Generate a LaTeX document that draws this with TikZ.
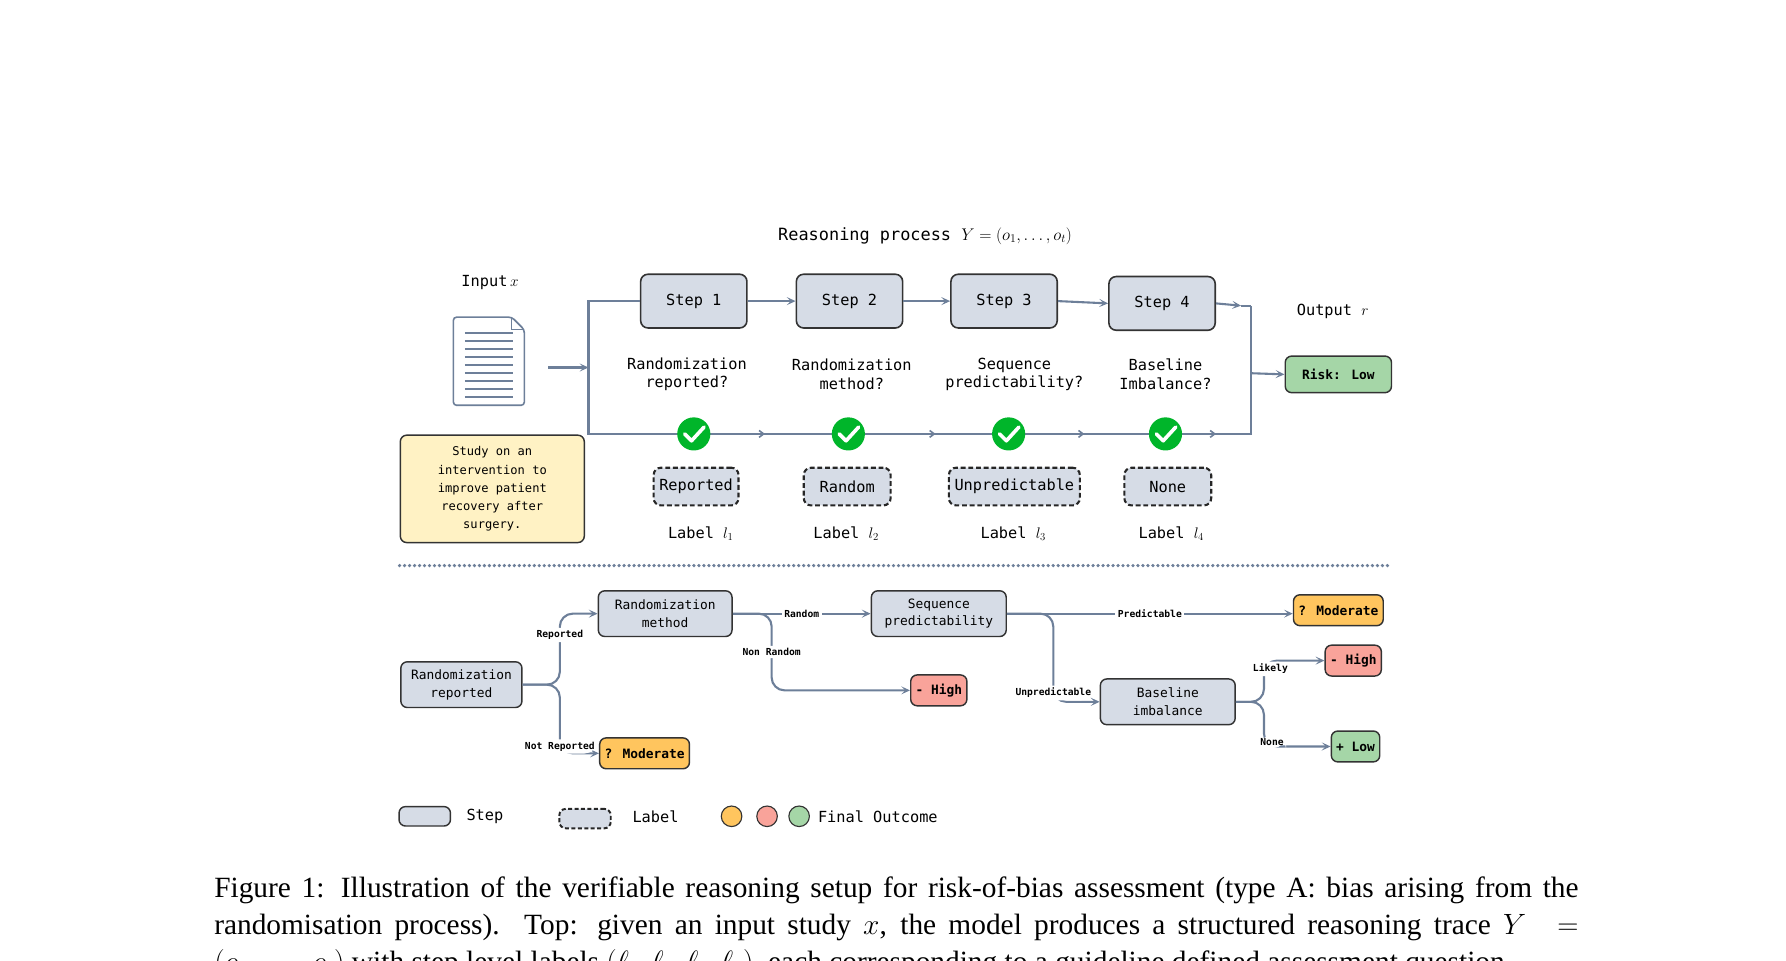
\RequirePackage{fix-cm}
\documentclass[tikz,border=0pt]{standalone}
\usepackage{fontspec}
\usepackage{amsmath}
\setmainfont{Liberation Serif}
\newfontfamily\mono{DejaVu Sans Mono}
\usetikzlibrary{arrows.meta}
\definecolor{stepfill}{HTML}{D6DCE6}
\definecolor{edgecol}{HTML}{6D7F99}
\definecolor{notefill}{HTML}{FFF2C4}
\definecolor{modfill}{HTML}{FFC55E}
\definecolor{highfill}{HTML}{F9A39A}
\definecolor{lowfill}{HTML}{A5D6A7}
\definecolor{okgreen}{HTML}{00B52A}
\begin{document}
\begin{tikzpicture}[x=0.05cm,y=-0.05cm,
  every node/.style={font=\mono\fontsize{19}{23}\selectfont},
  stepbox/.style={draw=black!80,fill=stepfill,rounded corners=9pt,line width=2pt,minimum width=93*1.42pt,minimum height=47*1.42pt},
  labbox/.style={draw=black!85,dash pattern=on 6pt off 3.5pt,fill=stepfill,rounded corners=9pt,line width=2.6pt,minimum height=33*1.42pt,inner xsep=7pt},
  treebox/.style={draw=black!80,fill=stepfill,rounded corners=8pt,line width=1.8pt,align=center,minimum width=117*1.42pt,minimum height=40*1.42pt,font=\mono\fontsize{16}{22}\selectfont},
  outcome/.style={draw=black!80,rounded corners=8pt,line width=1.8pt,font=\mono\bfseries\fontsize{16}{20}\selectfont,minimum height=27*1.42pt,inner xsep=6pt},
  elab/.style={fill=white,text=black,inner sep=3pt,font=\mono\bfseries\fontsize{12}{14}\selectfont},
  flow/.style={edgecol,line width=2.6pt,-{Stealth[length=11pt,width=10pt,inset=5pt]}},
  branch/.style={edgecol,line width=2.6pt,rounded corners=16pt,-{Stealth[length=11pt,width=10pt,inset=5pt]}},
  check/.style={circle,fill=okgreen,minimum size=29*1.42pt,inner sep=0pt}]
\useasboundingbox (0,0) rectangle (1560,839);
% top part
\node[font=\mono\fontsize{21}{25}\selectfont] (title) at (808,206) {Reasoning process $Y=(o_1,\dots,o_t)$};
\node (inputlab) at (428,247) {Input$\,x$};
\node (outputlab) at (1164,272) {Output $r$};
% document icon
\draw[edgecol,line width=2pt,fill=white,rounded corners=4pt] (396,277) -- (447,277) -- (458,288) -- (458,354) -- (396,354) -- cycle;
\draw[edgecol,line width=1.5pt] (447,277) -- (447,288) -- (458,288);
\foreach \y in {291,298,...,347} \draw[edgecol,line width=2.4pt] (406,\y) -- (448,\y);
\coordinate (docout) at (479,321);
\coordinate (split) at (514,321);
\draw[flow] (docout) -- (split);
% steps
\node[stepbox] (s1) at (606,263) {Step 1};
\node[stepbox] (s2) at (742,263) {Step 2};
\node[stepbox] (s3) at (877,263) {Step 3};
\node[stepbox] (s4) at (1015,265) {Step 4};
\node[align=center] (q1) at (600,327) {Randomization\\reported?};
\node[align=center] (q2) at (744,327) {Randomization\\method?};
\node[align=center] (q3) at (886,327) {Sequence\\predictability?};
\node[align=center] (q4) at (1018,327) {Baseline\\Imbalance?};
\node[outcome,fill=lowfill,minimum width=93*1.42pt,minimum height=32*1.42pt] (risk) at (1169,327) {Risk: Low};
\coordinate (jtop) at (1093,267);
\coordinate (jmid) at (1093,326);
\coordinate (jbot) at (1093,379);
\draw[edgecol,line width=2.6pt] (s1.west) -| (514,379) -- (jbot) -- (jtop);
\draw[flow] (s1) -- (s2);
\draw[flow] (s2) -- (s3);
\draw[flow] (s3.east) -- (s4.west);
\draw[flow] (s4.east) -- (1084,267);
\draw[edgecol,line width=2.6pt] (1084,267) -- (jtop);
\draw[flow] (jmid) -- (risk.west);
\foreach \x in {666,815,945,1060}
  \draw[edgecol,line width=2pt] (\x-3,376) -- (\x+1,379) -- (\x-3,382);
\foreach \x/\n in {606/c1,741/c2,881/c3,1018/c4}{
  \node[check] (\n) at (\x,379) {};
  \draw[white,line width=4.5pt,line cap=round,line join=round] (\x-8,379) -- (\x-2,385) -- (\x+9,373);
}
\node[labbox] (l1) at (608,425) {Reported};
\node[labbox,minimum width=76*1.42pt] (l2) at (740,425) {Random};
\node[labbox] (l3) at (886,425) {Unpredictable};
\node[labbox,minimum width=76*1.42pt] (l4) at (1020,425) {None};
\node (ll1) at (612,466) {Label $l_1$};
\node (ll2) at (739,466) {Label $l_2$};
\node (ll3) at (885,466) {Label $l_3$};
\node (ll4) at (1023,466) {Label $l_4$};
\node[draw=black!80,fill=notefill,rounded corners=8pt,line width=1.8pt,align=center,minimum width=161*1.42pt,minimum height=94*1.42pt,font=\mono\fontsize{15}{22.5}\selectfont] (study) at (430,427) {Study on an\\intervention to\\improve patient\\recovery after\\surgery.};
% separator
\draw[edgecol,line width=4.5pt,line cap=round,dash pattern=on 0pt off 6.2pt] (349,494) -- (1216,494);
% bottom decision tree
\node[treebox,minimum width=106*1.42pt] (rr) at (403,598) {Randomization\\reported};
\node[treebox] (rm) at (581,536) {Randomization\\method};
\node[treebox,minimum width=118*1.42pt] (sp) at (820,536) {Sequence\\predictability};
\node[treebox,minimum width=118*1.42pt] (bi) at (1020,613) {Baseline\\imbalance};
\node[outcome,fill=modfill] (mod1) at (563,658) {? Moderate};
\node[outcome,fill=highfill] (hi1) at (820,603) {- High};
\node[outcome,fill=modfill] (mod2) at (1169,533) {? Moderate};
\node[outcome,fill=highfill] (hi2) at (1182,577) {- High};
\node[outcome,fill=lowfill] (low) at (1184,652) {+ Low};
\draw[branch] (rr.east) -- (489,598) |- (rm.west) node[elab,pos=0.35] {Reported};
\draw[branch] (rr.east) -- (489,598) |- (mod1.west) node[elab,pos=0.45] {Not Reported};
\draw[flow] (rm.east) -- (sp.west) node[elab,pos=0.5] {Random};
\draw[branch] (rm.east) -- (674,536) |- (hi1.west) node[elab,pos=0.25] {Non Random};
\draw[flow] (sp.east) -- (mod2.west |- sp.east) node[elab,pos=0.5] {Predictable};
\draw[branch] (sp.east) -- (920,536) |- (bi.west) node[elab,pos=0.45] {Unpredictable};
\draw[branch] (bi.east) -- (1104,613) |- (hi2.west) node[elab,pos=0.4,xshift=8] {Likely};
\draw[branch] (bi.east) -- (1104,613) |- (low.west) node[elab,pos=0.45,xshift=10] {None};
% legend
\node[draw=black!80,fill=stepfill,rounded corners=8pt,line width=1.8pt,minimum width=45*1.42pt,minimum height=17*1.42pt] (legstep) at (371,713) {};
\node[anchor=west] (legsteplab) at (405,713) {Step};
\node[draw=black!85,dash pattern=on 5pt off 3pt,fill=stepfill,rounded corners=8pt,line width=2.4pt,minimum width=45*1.42pt,minimum height=17*1.42pt] (leglab) at (511,715) {};
\node[anchor=west] (leglablab) at (550,713) {Label};
\node[circle,draw=black!80,line width=1.4pt,fill=modfill,minimum size=18*1.42pt,inner sep=0pt] (lego) at (639,713) {};
\node[circle,draw=black!80,line width=1.4pt,fill=highfill,minimum size=18*1.42pt,inner sep=0pt] (legr) at (670,713) {};
\node[circle,draw=black!80,line width=1.4pt,fill=lowfill,minimum size=18*1.42pt,inner sep=0pt] (legg) at (698,713) {};
\node[anchor=west] (legout) at (712,713) {Final Outcome};
% caption
\node[anchor=north west,inner sep=0pt,font=\fontsize{36.5}{45.5}\selectfont,text width=1194*1.42pt,align=justify] (cap) at (187,766) {Figure 1: Illustration of the verifiable reasoning setup for risk-of-bias assessment (type A: bias arising from the\linebreak randomisation process).\ \ Top: given an input study $x$, the model produces a structured reasoning trace $Y\ =$\linebreak $(o_1,\dots,o_t)$ with step level labels $(\ell_1,\ell_2,\ell_3,\ell_4)$, each corresponding to a guideline defined assessment question.};
\end{tikzpicture}
\end{document}
